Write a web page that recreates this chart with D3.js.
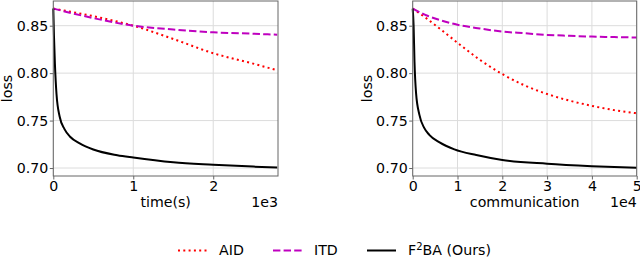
<!DOCTYPE html>
<html>
<head>
<meta charset="utf-8">
<script src="https://cdn.jsdelivr.net/npm/d3@7"></script>
<style>
  body { margin: 0; background: #fff; }
  text { font-family: "DejaVu Sans", sans-serif; fill: #000; }
</style>
</head>
<body>
<div id="chart"></div>
<script>
// left panel: loss vs time(s)
var timeX    = [0, 8, 20, 40, 80, 140, 210, 330, 500, 800, 1000, 1500, 2000, 2500, 2800];
var f2baTime = [0.868, 0.84, 0.81, 0.778, 0.754, 0.741, 0.733, 0.726, 0.7195, 0.7135, 0.711, 0.706, 0.7035, 0.7015, 0.7005];
var timeX2   = [0, 500, 1000, 1500, 2000, 2500, 2800];
var aidTime  = [0.868, 0.860, 0.850, 0.836, 0.821, 0.810, 0.803];
var itdTime  = [0.868, 0.858, 0.850, 0.846, 0.843, 0.8415, 0.8405];

// right panel: loss vs communication
var commX    = [0, 200, 400, 750, 1500, 2600, 3700, 6000, 9300, 14200, 20000, 30000, 40000, 50000];
var f2baComm = [0.868, 0.85, 0.812, 0.779, 0.756, 0.742, 0.735, 0.727, 0.7197, 0.7137, 0.7085, 0.7045, 0.702, 0.7003];
var commX2   = [0, 3000, 6000, 10000, 15000, 20000, 25000, 30000, 35000, 40000, 45000, 50000];
var aidComm  = [0.868, 0.858, 0.847, 0.832, 0.814, 0.799, 0.787, 0.778, 0.771, 0.7655, 0.761, 0.7577];
var itdComm  = [0.868, 0.861, 0.856, 0.851, 0.847, 0.8438, 0.8420, 0.8403, 0.8393, 0.8385, 0.8380, 0.8375];

var yTicks = [0.70, 0.75, 0.80, 0.85];
var timeTicks = [0, 1000, 2000];
var commTicks = [0, 10000, 20000, 30000, 40000, 50000];

var series = [
  {name: "AID", color: "#ff0000", dash: "2,3.3"},
  {name: "ITD", color: "#bf00bf", dash: "7.4,3.2"},
  {name: "F2BA", color: "#000000", dash: null}
];

var fs = "14.2px";
var w = 640, h = 259;
var svg = d3.select("#chart").append("svg")
  .attr("width", w)
  .attr("height", h);

function panel(left, right, xMax, xTicks, xlabel, expo, lines) {
  var top = 1, bottom = 176;
  var x = d3.scaleLinear().domain([0, xMax]).range([left, right]);
  var y = d3.scaleLinear().domain([0.6916, 0.876]).range([bottom, top]);
  var g = svg.append("g");

  // grid
  g.selectAll(".gx").data(xTicks).enter().append("line")
    .attr("x1", d => x(d)).attr("x2", d => x(d))
    .attr("y1", top).attr("y2", bottom)
    .style("stroke", "#dcdcdc").style("stroke-width", 1);
  g.selectAll(".gy").data(yTicks).enter().append("line")
    .attr("x1", left).attr("x2", right)
    .attr("y1", d => y(d)).attr("y2", d => y(d))
    .style("stroke", "#dcdcdc").style("stroke-width", 1);

  // lines
  lines.forEach(function(l, i) {
    var s = series[i];
    var line = d3.line()
      .x((d, j) => x(l.xs[j]))
      .y(d => y(d))
      .curve(d3.curveMonotoneX);
    g.append("path")
      .datum(l.ys)
      .attr("d", line)
      .style("fill", "none")
      .style("stroke", s.color)
      .style("stroke-width", 2)
      .style("stroke-dasharray", s.dash);
  });

  // frame
  g.append("rect")
    .attr("x", left).attr("y", top)
    .attr("width", right - left).attr("height", bottom - top)
    .style("fill", "none").style("stroke", "#666").style("stroke-width", 1);

  // axes
  var xAxis = d3.axisBottom(x).tickValues(xTicks)
    .tickFormat(d => d / Math.pow(10, expo)).tickSize(3.5).tickPadding(1.5);
  var ax = g.append("g").attr("transform", "translate(0," + bottom + ")").call(xAxis);
  var yAxis = d3.axisLeft(y).tickValues(yTicks)
    .tickFormat(d3.format(".2f")).tickSize(3.5).tickPadding(1.5);
  var ay = g.append("g").attr("transform", "translate(" + left + ",0)").call(yAxis);
  [ax, ay].forEach(function(a) {
    a.select(".domain").remove();
    a.selectAll(".tick line").style("stroke", "#666");
    a.selectAll("text").style("font-size", fs).style("font-family", "DejaVu Sans");
  });

  g.append("text")
    .attr("x", (left + right) / 2).attr("y", 207)
    .style("text-anchor", "middle").style("font-size", fs)
    .text(xlabel);
  g.append("text")
    .attr("x", right).attr("y", 207)
    .style("text-anchor", "end").style("font-size", fs)
    .text("1e" + expo);
  g.append("text")
    .attr("transform", "translate(" + (left - 46) + "," + ((top + bottom) / 2) + ") rotate(-90)")
    .attr("dy", "0.35em")
    .style("text-anchor", "middle").style("font-size", fs)
    .text("loss");
}

panel(53.3, 278, 2810, timeTicks, "time(s)", 3, [
  {xs: timeX2, ys: aidTime},
  {xs: timeX2, ys: itdTime},
  {xs: timeX, ys: f2baTime}
]);
panel(412.7, 636.7, 50000, commTicks, "communication", 4, [
  {xs: commX2, ys: aidComm},
  {xs: commX2, ys: itdComm},
  {xs: commX, ys: f2baComm}
]);

// legend
var legY = 250.5;
var legX = [178, 273, 367];
var legLabels = ["AID", "ITD", null];
series.forEach(function(s, i) {
  svg.append("line")
    .attr("x1", legX[i]).attr("x2", legX[i] + 29)
    .attr("y1", legY).attr("y2", legY)
    .style("stroke", s.color).style("stroke-width", 2)
    .style("stroke-dasharray", s.dash);
  var t = svg.append("text")
    .attr("x", legX[i] + 41).attr("y", legY)
    .attr("dy", "0.35em")
    .style("font-size", fs);
  if (legLabels[i]) {
    t.text(legLabels[i]);
  } else {
    t.append("tspan").text("F");
    t.append("tspan").attr("baseline-shift", "super").style("font-size", "10px").text("2");
    t.append("tspan").text("BA (Ours)");
  }
});
</script>
</body>
</html>
